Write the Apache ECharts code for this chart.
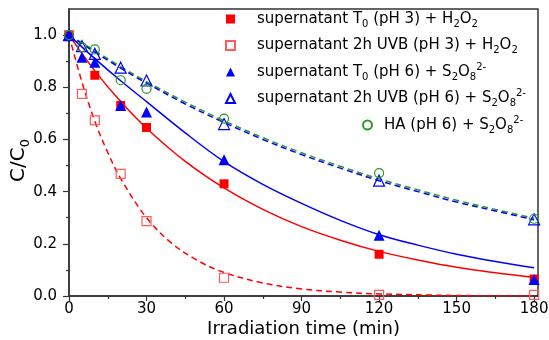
<!DOCTYPE html>
<html>
<head>
<meta charset="utf-8">
<script src="https://cdn.jsdelivr.net/npm/echarts@6/dist/echarts.min.js"></script>
<style>
  html, body { margin: 0; padding: 0; background: #fff; }
  #chart { width: 549px; height: 340px; }
</style>
</head>
<body>
<div id="chart"></div>
<script>
// measured points
const timePts = [0, 5, 10, 20, 30, 60, 120, 180];
const t0ph3 = [1.0, null, 0.846, 0.73, 0.646, 0.43, 0.16, 0.065];
const uvbPh3 = [1.0, 0.775, 0.673, 0.468, 0.287, 0.07, 0.004, 0.004];
const t0ph6 = [1.0, 0.915, 0.896, 0.73, 0.705, 0.522, 0.233, 0.063];
const uvbPh6 = [1.0, 0.958, 0.928, 0.875, 0.826, 0.659, 0.442, 0.294];
const haPh6 = [1.0, 0.954, 0.945, 0.827, 0.794, 0.68, 0.471, 0.296];

// fitted curves
const fitTime = [0, 10, 20, 30, 45, 60, 75, 90, 105, 120, 135, 150, 165, 180];
const fitT0ph3 = [1.0, 0.863, 0.745, 0.643, 0.516, 0.414, 0.332, 0.266, 0.214, 0.171, 0.138, 0.110, 0.089, 0.071];
const fitT0ph6 = [1.0, 0.91, 0.825, 0.745, 0.625, 0.515, 0.428, 0.355, 0.29, 0.235, 0.195, 0.16, 0.132, 0.108];
const fitUvbPh6 = [1.0, 0.935, 0.873, 0.816, 0.736, 0.665, 0.60, 0.542, 0.49, 0.442, 0.40, 0.36, 0.326, 0.292];
const fitHaPh6 = [1.0, 0.94, 0.879, 0.822, 0.743, 0.672, 0.607, 0.549, 0.497, 0.449, 0.407, 0.367, 0.332, 0.298];
const fitUvbTime = [0, 5, 10, 15, 20, 30, 40, 50, 60, 75, 90, 105, 120, 150, 180];
const fitUvbPh3 = [1.0, 0.82, 0.67, 0.55, 0.45, 0.30, 0.20, 0.135, 0.09, 0.05, 0.027, 0.015, 0.008, 0.002, 0.0];

const xMajor = [0, 30, 60, 90, 120, 150, 180];
const xMinor = [15, 45, 75, 105, 135, 165];
const yMajor = [0, 0.2, 0.4, 0.6, 0.8, 1.0];
const yMinor = [0.1, 0.3, 0.5, 0.7, 0.9];

const seriesNames = ['t0ph3', 'uvbph3', 't0ph6', 'uvbph6', 'haph6'];
const legendLabels = [
    'supernatant T{sub|0} (pH 3) + H{sub|2}O{sub|2}',
    'supernatant 2h UVB (pH 3) + H{sub|2}O{sub|2}',
    'supernatant T{sub|0} (pH 6) + S{sub|2}O{sub|8}{sup|2-}',
    'supernatant 2h UVB (pH 6) + S{sub|2}O{sub|8}{sup|2-}',
    'HA (pH 6) + S{sub|2}O{sub|8}{sup|2-}'
];

const font = 'DejaVu Sans, Arial, sans-serif';
const axisColor = '#333';
const red = '#ff0000';
const lightRed = '#ff5b5b';
const blue = '#0000ff';
const green = '#2a9a2a';

const pairs = (xs, ys) => xs.map((x, i) => [x, ys[i]]).filter(p => p[1] !== null);

const richText = {
    sub: { fontSize: 10, verticalAlign: 'bottom', lineHeight: 20, fontFamily: font, color: '#000' },
    sup: { fontSize: 10, verticalAlign: 'top', lineHeight: 20, fontFamily: font, color: '#000' }
};

function fitLine(name, data, color, dashed) {
    return {
        name: name,
        type: 'line',
        data: data,
        smooth: 0.35,
        symbol: 'none',
        z: 2,
        lineStyle: { color: color, width: 1.5, type: dashed ? [6, 4] : 'solid' },
        silent: true
    };
}

function points(name, data, symbol, size, color, filled) {
    return {
        name: name,
        type: 'scatter',
        data: data,
        symbol: symbol,
        symbolSize: size,
        z: 5,
        itemStyle: filled
            ? { color: color, opacity: 1 }
            : { color: 'rgba(255,255,255,0)', borderColor: color, borderWidth: 1.2, opacity: 1 }
    };
}

function legendFormatter(name) {
    return legendLabels[seriesNames.indexOf(name)];
}

const legendText = {
    fontSize: 15,
    fontFamily: font,
    color: '#000',
    lineHeight: 20,
    padding: [0, 0, 0, 17],
    rich: richText
};

const chart = echarts.init(document.getElementById('chart'));
chart.setOption({
    animation: false,
    backgroundColor: '#fff',
    grid: {
        left: 69, right: 11, top: 9, bottom: 44,
        outerBoundsMode: 'none',
        containLabel: false,
        show: true, borderColor: axisColor, borderWidth: 1.5
    },
    legend: [
        {
            data: seriesNames.slice(0, 4),
            orient: 'vertical',
            left: 225, top: 9, padding: 0,
            itemWidth: 9, itemHeight: 9,
            itemGap: 6.5,
            formatter: legendFormatter,
            textStyle: legendText,
            selectedMode: false
        },
        {
            data: [seriesNames[4]],
            orient: 'vertical',
            left: 362, top: 115, padding: 0,
            itemWidth: 9, itemHeight: 9,
            formatter: legendFormatter,
            textStyle: Object.assign({}, legendText, { padding: [0, 0, 0, 7] }),
            selectedMode: false
        }
    ],
    xAxis: [
        {
            type: 'value', min: 0, max: 181.5,
            name: 'Irradiation time (min)',
            nameLocation: 'middle', nameGap: 24, nameMoveOverlap: false,
            nameTextStyle: { fontSize: 18, fontFamily: font, color: '#000' },
            axisLine: { lineStyle: { color: axisColor, width: 1.5 } },
            axisTick: { customValues: xMajor, length: 5, lineStyle: { color: axisColor, width: 1.2 } },
            axisLabel: { customValues: xMajor, fontSize: 15, fontFamily: font, color: '#000', margin: 6 },
            splitLine: { show: false }
        },
        {
            type: 'value', min: 0, max: 181.5, position: 'bottom',
            axisLine: { show: false },
            axisTick: { customValues: xMinor, length: 3, lineStyle: { color: axisColor, width: 1.2 } },
            axisLabel: { show: false },
            splitLine: { show: false }
        }
    ],
    yAxis: [
        {
            type: 'value', min: 0, max: 1.1,
            name: 'C/C{sub|0}',
            nameLocation: 'middle', nameGap: 37, nameRotate: 90, nameMoveOverlap: false,
            nameTextStyle: {
                fontSize: 20, fontFamily: font, color: '#000',
                padding: [0, 16, 0, 0],
                rich: { sub: { fontSize: 13, verticalAlign: 'bottom', lineHeight: 26, fontFamily: font, color: '#000' } }
            },
            axisLine: { lineStyle: { color: axisColor, width: 1.5 } },
            axisTick: { customValues: yMajor, length: 6, lineStyle: { color: axisColor, width: 1.2 } },
            axisLabel: {
                customValues: yMajor, fontSize: 15, fontFamily: font, color: '#000', margin: 12,
                formatter: v => v.toFixed(1)
            },
            splitLine: { show: false }
        },
        {
            type: 'value', min: 0, max: 1.1, position: 'left',
            axisLine: { show: false },
            axisTick: { customValues: yMinor, length: 3, lineStyle: { color: axisColor, width: 1.2 } },
            axisLabel: { show: false },
            splitLine: { show: false }
        }
    ],
    series: [
        fitLine('fit_t0ph3', pairs(fitTime, fitT0ph3), red, false),
        fitLine('fit_uvbph3', pairs(fitUvbTime, fitUvbPh3), red, true),
        fitLine('fit_t0ph6', pairs(fitTime, fitT0ph6), blue, false),
        fitLine('fit_haph6', pairs(fitTime, fitHaPh6), green, true),
        fitLine('fit_uvbph6', pairs(fitTime, fitUvbPh6), blue, true),
        points('t0ph3', pairs(timePts, t0ph3), 'rect', 9, red, true),
        points('uvbph3', pairs(timePts, uvbPh3), 'rect', 9, lightRed, false),
        points('t0ph6', pairs(timePts, t0ph6), 'triangle', 11, blue, true),
        points('uvbph6', pairs(timePts, uvbPh6), 'triangle', 11, blue, false),
        points('haph6', pairs(timePts, haPh6), 'circle', 9, green, false)
    ]
});
</script>
</body>
</html>
